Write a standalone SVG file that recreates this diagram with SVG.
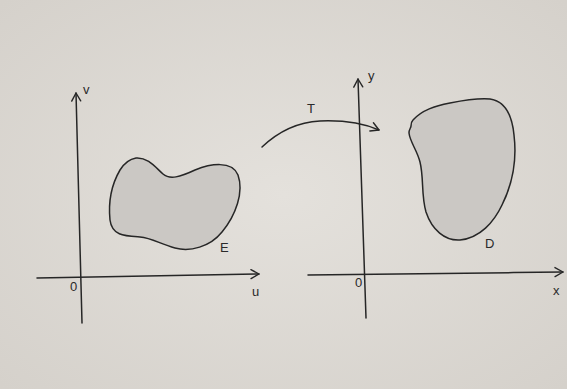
<svg xmlns="http://www.w3.org/2000/svg" width="567" height="389" viewBox="0 0 567 389">
<defs>
<radialGradient id="bg" cx="0.5" cy="0.5" r="0.7">
<stop offset="0" stop-color="#e4e1dc"/>
<stop offset="1" stop-color="#d5d1cb"/>
</radialGradient>
<marker id="ah" markerWidth="12" markerHeight="12" refX="10" refY="6" orient="auto" markerUnits="userSpaceOnUse">
<path d="M2,1.5 L10,6 L2,10.5" fill="none" stroke="#262626" stroke-width="1.4" stroke-linecap="round" stroke-linejoin="round"/>
</marker>
</defs>
<style>
.ln{fill:none;stroke:#262626;stroke-width:1.5;stroke-linecap:round}
.rg{fill:#cbc8c4;stroke:#262626;stroke-width:1.5}
.lb{font-family:"Liberation Sans",Arial,sans-serif;font-size:13px;fill:#2a2a2a}
</style>
<rect width="567" height="389" fill="url(#bg)"/>
<g id="connectors">
<path class="ln" d="M82,323 L76,93" marker-end="url(#ah)"/>
<path class="ln" d="M37,278 C120,276 190,275 259,274" marker-end="url(#ah)"/>
<path class="ln" d="M366,318 L358,79" marker-end="url(#ah)"/>
<path class="ln" d="M308,275 C400,274 480,273 563,272" marker-end="url(#ah)"/>
<path class="ln" d="M262,147 C280,130 300,122 320,121 C345,120 365,124 379,130" marker-end="url(#ah)"/>
</g>
<g id="E">
<path class="rg" d="M136,158 C148,157 156,168 163,174 C170,180 180,177 195,170 C210,164 232,160 238,175 C244,192 236,215 222,232 C210,247 190,252 175,248 C160,244 152,238 140,237 C125,236 112,236 110,220 C108,200 113,182 120,170 C125,162 130,159 136,158 Z"/>
<text class="lb" x="220" y="252">E</text>
</g>
<g id="D">
<path class="rg" d="M413,120 C422,110 435,106 450,103 C465,100 478,98 490,99 C505,101 512,115 514,135 C517,160 512,185 502,205 C494,222 480,238 460,240 C445,241 432,230 426,212 C421,195 424,178 420,162 C417,150 410,142 409,133 C409,129 411,128 411,126 C411,124 411,122 413,120 Z"/>
<text class="lb" x="485" y="248">D</text>
</g>
<g id="labels">
<text class="lb" x="83" y="94">v</text>
<text class="lb" x="70" y="291">0</text>
<text class="lb" x="252" y="296">u</text>
<text class="lb" x="368" y="80">y</text>
<text class="lb" x="355" y="287">0</text>
<text class="lb" x="553" y="295">x</text>
<text class="lb" x="307" y="113">T</text>
</g>
</svg>
